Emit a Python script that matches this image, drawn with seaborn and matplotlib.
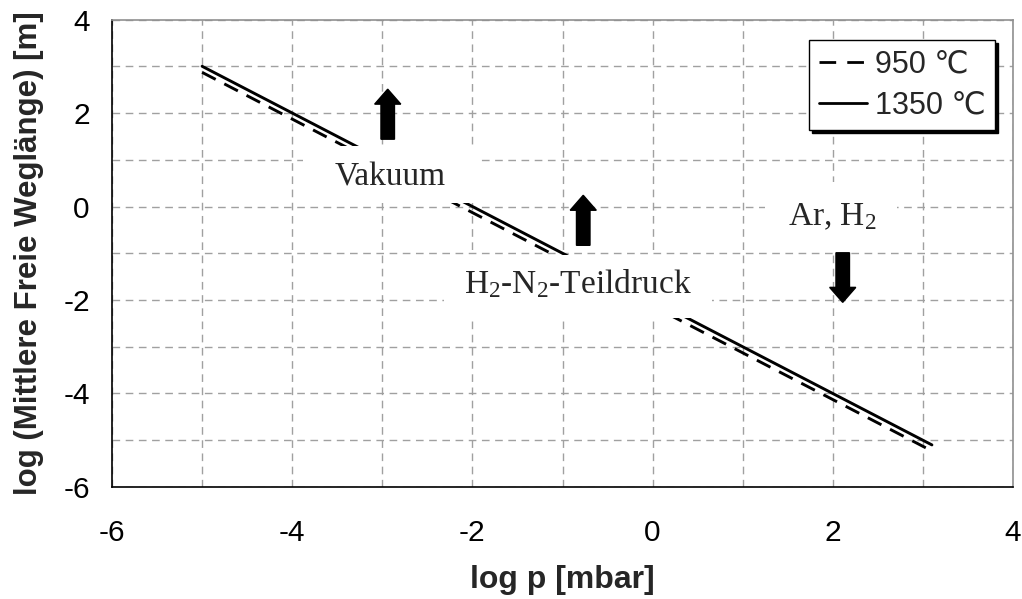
import numpy as np
import pandas as pd
import matplotlib
matplotlib.use("Agg")
import matplotlib.pyplot as plt
from matplotlib.lines import Line2D
from matplotlib.patches import Rectangle
import seaborn as sns

# log p [mbar] and log mean free path [m] for the two temperatures
log_p = [-5.0, -4.0, -3.0, -2.0, -1.0, 0.0, 1.0, 2.0, 3.1]
lam_950 = [2.87, 1.87, 0.87, -0.13, -1.13, -2.13, -3.13, -4.13, -5.23]
lam_1350 = [3.00, 2.00, 1.00, 0.00, -1.00, -2.00, -3.00, -4.00, -5.10]
series_labels = ["950 \u2103", "1350 \u2103"]

x_ticks = [-6, -4, -2, 0, 2, 4]
y_ticks = [-6, -4, -2, 0, 2, 4]

sns.set_theme(style="white")
plt.rcParams["font.family"] = ["Liberation Sans", "DejaVu Sans"]
plt.rcParams["lines.scale_dashes"] = False
plt.rcParams["mathtext.fontset"] = "custom"
plt.rcParams["mathtext.rm"] = "Liberation Serif"
plt.rcParams["mathtext.it"] = "Liberation Serif:italic"

df = pd.DataFrame({
    "log_p": log_p * 2,
    "log_lambda": lam_950 + lam_1350,
    "T": [series_labels[0]] * len(log_p) + [series_labels[1]] * len(log_p),
})

fig = plt.figure(figsize=(10.22, 5.99), dpi=100)
ax = fig.add_axes([0.1096, 0.187, 0.9912 - 0.1096, 0.9674 - 0.187])

dash_950 = (11.0, 7.0)
sns.lineplot(data=df, x="log_p", y="log_lambda", style="T",
             style_order=series_labels,
             dashes={series_labels[0]: dash_950, series_labels[1]: ""},
             color="black", linewidth=2.1, estimator=None, sort=False,
             legend=False, ax=ax, zorder=3)

ax.set_xlim(-6, 4)
ax.set_ylim(-6, 4)
ax.set_xticks(x_ticks)
ax.set_yticks(y_ticks)
ax.set_xticks(np.arange(-5, 4, 2), minor=True)
ax.set_yticks(np.arange(-5, 4, 2), minor=True)
ax.set_xticklabels([str(v) for v in x_ticks])
ax.set_yticklabels([str(v) for v in y_ticks])

ax.grid(True, which="both", color="#a0a0a0", linestyle=(0, (5.5, 4.0)),
        linewidth=1.0, zorder=0)
ax.set_axisbelow(True)

ax.tick_params(axis="both", which="major", direction="out", length=7,
               width=1.0, color="black", labelsize=21.5, labelcolor="black")
ax.tick_params(axis="x", which="major", pad=16)
ax.tick_params(axis="y", which="major", pad=9)
ax.tick_params(axis="both", which="minor", length=0)

for side in ["left", "bottom"]:
    ax.spines[side].set_color("black")
    ax.spines[side].set_linewidth(1.2)
for side in ["top", "right"]:
    ax.spines[side].set_color("#909090")
    ax.spines[side].set_linewidth(1.2)

ax.set_xlabel("log p [mbar]", fontsize=23, fontweight="bold", labelpad=13)
ax.set_ylabel("log (Mittlere Freie Wegl\u00e4nge) [m]", fontsize=22.5,
              fontweight="bold", labelpad=14)

# white label panels covering the curves
panels = [
    (-3.88, 0.07, 1.96, 1.22),
    (-2.32, -2.39, 2.98, 1.35),
    (1.25, -0.94, 1.46, 1.46),
]
for x0, y0, w, h in panels:
    ax.add_patch(Rectangle((x0, y0), w, h, facecolor="white",
                           edgecolor="none", zorder=4))

serif = "Liberation Serif"
ax.text(-2.91, 0.46, "Vakuum", fontsize=24, family=serif,
        ha="center", va="baseline", zorder=5)
ax.text(-0.83, -1.86, "H$_2$-N$_2$-Teildruck", fontsize=24, family=serif,
        ha="center", va="baseline", zorder=5)
ax.text(2.0, -0.40, "Ar, H$_2$", fontsize=24, family=serif,
        ha="center", va="baseline", zorder=5)

# direction arrows
arrows = [
    (-2.94, 1.44, 2.51),
    (-0.77, -0.83, 0.24),
    (2.11, -0.99, -2.05),
]
for ax_x, y_from, y_to in arrows:
    ax.arrow(ax_x, y_from, 0, y_to - y_from, width=0.15, head_width=0.29,
             head_length=0.32, length_includes_head=True,
             facecolor="black", edgecolor="black", zorder=6)

handles = [
    Line2D([], [], color="black", linewidth=2.0, dashes=(12.0, 8.0)),
    Line2D([], [], color="black", linewidth=2.0),
]
leg = ax.legend(handles, series_labels, loc="upper right",
                bbox_to_anchor=(0.980, 0.956), borderaxespad=0,
                fontsize=22, frameon=True, fancybox=False,
                shadow={"facecolor": "black", "edgecolor": "black", "alpha": 1},
                handlelength=1.6, handletextpad=0.25, labelspacing=0.38,
                borderpad=0.3)
leg.get_frame().set_edgecolor("black")
leg.get_frame().set_linewidth(1.0)
leg.get_frame().set_alpha(1)

fig.savefig("out.png", dpi=100)
